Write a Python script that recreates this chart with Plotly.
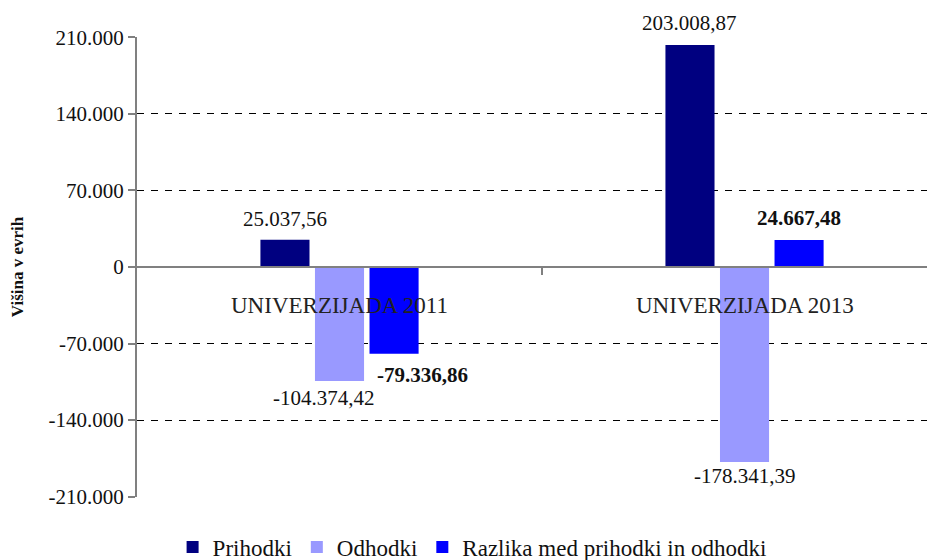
import plotly.graph_objects as go

categories = ["UNIVERZIJADA 2011", "UNIVERZIJADA 2013"]
series_names = ["Prihodki", "Odhodki", "Razlika med prihodki in odhodki"]
prihodki = [25037.56, 203008.87]
odhodki = [-104374.42, -178341.39]
razlika = [-79336.86, 24667.48]
tick_values = [-210000, -140000, -70000, 0, 70000, 140000, 210000]
y_title = "Višina v evrih"

colors = ["#000080", "#9999FF", "#0000FF"]
series = [prihodki, odhodki, razlika]
FONT = "Liberation Serif"


def fmt_num(v, decimals=2):
    s = f"{abs(v):,.{decimals}f}"
    s = s.replace(",", "X").replace(".", ",").replace("X", ".")
    return ("-" if v < 0 else "") + s


tick_text = [fmt_num(v, 0) for v in tick_values]

fig = go.Figure()
for name, vals, col in zip(series_names, series, colors):
    fig.add_trace(go.Bar(x=list(range(len(categories))), y=vals, name=name,
                         marker=dict(color=col, line=dict(width=0))))

# data labels
slot = 0.404 / 3
label_style = {
    # (series, category): (xshift, yshift, bold)
    (0, 0): (0, 21, False), (0, 1): (0, 22, False),
    (1, 0): (-16, -17, False), (1, 1): (0, -14, False),
    (2, 0): (28, -21, True), (2, 1): (0, 22, True),
}
annotations = []
for si, vals in enumerate(series):
    for ci, v in enumerate(vals):
        xs, ys, bold = label_style[(si, ci)]
        txt = fmt_num(v)
        if bold:
            txt = f"<b>{txt}</b>"
        annotations.append(dict(
            x=ci + (si - 1) * slot, y=v, xref="x", yref="y",
            text=txt, showarrow=False, xshift=xs, yshift=ys,
            xanchor="center", yanchor="middle",
            font=dict(family=FONT, size=21, color="#111")))

# category labels
for ci, c in enumerate(categories):
    annotations.append(dict(
        x=ci, y=0, xref="x", yref="y", text=c, showarrow=False,
        yshift=-38, xanchor="center", yanchor="middle",
        font=dict(family=FONT, size=23, color="#222")))

shapes = [
    dict(type="line", xref="paper", yref="y", x0=0, x1=1.009, y0=0, y1=0,
         line=dict(color="#808080", width=2), layer="above"),
    dict(type="line", xref="x", yref="y", ysizemode="pixel", yanchor=0,
         x0=0.5, x1=0.5, y0=0, y1=-8,
         line=dict(color="#808080", width=2)),
]

# the page body adds an 8px offset, so the figure is 8px smaller
fig.update_layout(
    width=927, height=552,
    margin=dict(l=129, r=7, t=29, b=63, autoexpand=False),
    paper_bgcolor="white", plot_bgcolor="white",
    barmode="group", bargap=0.596, bargroupgap=0.1,
    font=dict(family=FONT, size=21, color="#111"),
    xaxis=dict(range=[-0.5, 1.453], showticklabels=False, showgrid=False,
               zeroline=False, showline=False, ticks="", automargin=False),
    yaxis=dict(range=[-210400, 210400], tickvals=tick_values, ticktext=tick_text,
               showgrid=True, gridcolor="#000000", gridwidth=1, griddash="7px,7px",
               zeroline=False, showline=True, linecolor="#808080", linewidth=2,
               ticks="outside", ticklen=7, tickcolor="#808080", tickwidth=2,
               automargin=False,
               tickfont=dict(family=FONT, size=21, color="#111"),
               title=dict(text=f"<b>{y_title}</b>", standoff=21,
                          font=dict(family=FONT, size=17, color="#111"))),
    showlegend=True,
    legend=dict(orientation="h", x=0.045, xanchor="left", y=-0.109, yanchor="middle",
                font=dict(family=FONT, size=23, color="#111"),
                itemwidth=30, tracegroupgap=0, bgcolor="rgba(0,0,0,0)"),
    annotations=annotations,
    shapes=shapes,
)

fig.write_html("out.html")
